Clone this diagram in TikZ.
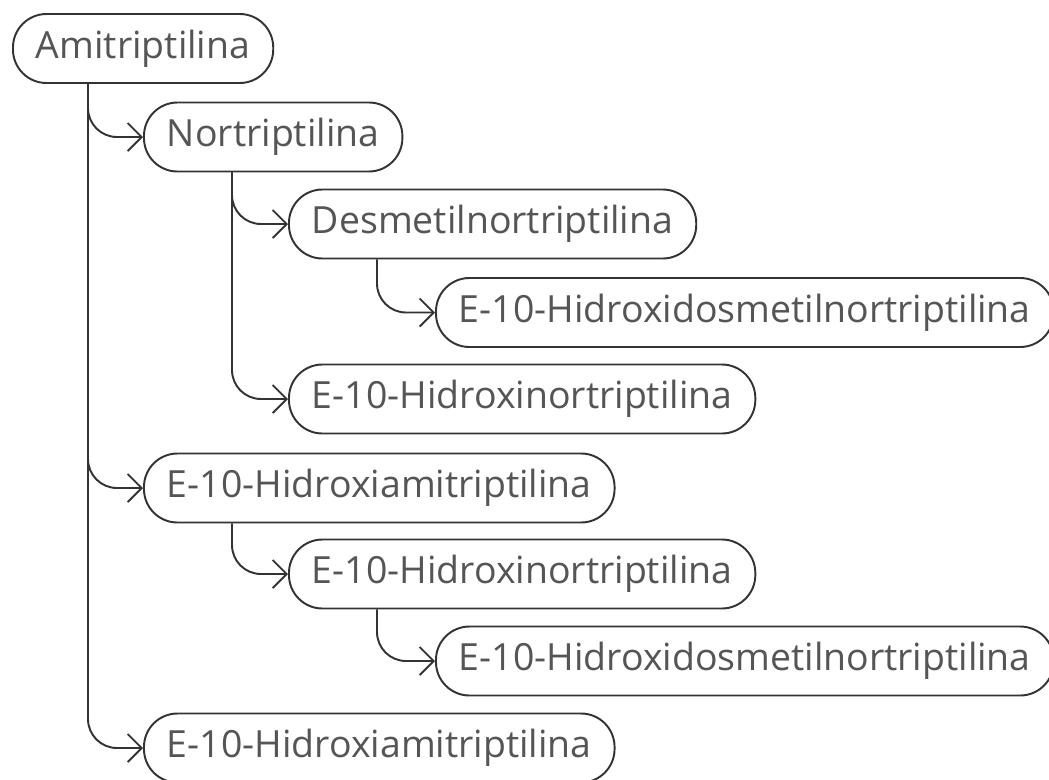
\documentclass[tikz,border=0pt]{standalone}
\usepackage{fontspec}
\setmainfont{Open Sans}
\usepackage{xcolor}
\usepackage{tikz}
\usetikzlibrary{arrows.meta,positioning}
\definecolor{edgegray}{HTML}{333333}
\definecolor{textgray}{HTML}{555555}
\tikzset{
  drug/.style={draw=edgegray, line width=1.1pt, rounded corners=0.67cm, anchor=west, align=center, fill=white, text=textgray, inner xsep=0.46cm, inner ysep=0pt, minimum height=1.38cm},
  metab/.style={-{Straight Barb[length=0.28cm, width=0.56cm]}, line width=1.1pt, draw=edgegray, rounded corners=0.58cm}
}

\begin{document}
\begin{tikzpicture}[font=\fontsize{21.3}{26}\selectfont]
  \useasboundingbox (0,0) rectangle (20.98,-15.58);

  \node[drug] (ami) at (0.24,-0.97) {Amitriptilina};
  \node[drug] (nor) at (2.86,-2.74) {Nortriptilina};
  \node[drug] (desmet) at (5.76,-4.48) {Desmetilnortriptilina};
  \node[drug] (hidDesmet) at (8.7,-6.25) {E-10-Hidroxidosmetilnortriptilina};
  \node[drug] (hidNor) at (5.76,-7.98) {E-10-Hidroxinortriptilina};
  \node[drug] (hidAmi) at (2.86,-9.76) {E-10-Hidroxiamitriptilina};
  \node[drug] (hidNorB) at (5.76,-11.48) {E-10-Hidroxinortriptilina};
  \node[drug] (hidDesmetB) at (8.7,-13.22) {E-10-Hidroxidosmetilnortriptilina};
  \node[drug] (hidAmiB) at (2.86,-14.96) {E-10-Hidroxiamitriptilina};

  % stems under each parent
  \coordinate (amiStem) at ([xshift=1.52cm]ami.south west);
  \coordinate (norStem) at ([xshift=1.78cm]nor.south west);
  \coordinate (desmetStem) at ([xshift=1.78cm]desmet.south west);
  \coordinate (hidAmiStem) at ([xshift=1.78cm]hidAmi.south west);
  \coordinate (hidNorBStem) at ([xshift=1.78cm]hidNorB.south west);

  \draw[metab] (amiStem) |- (nor.west);
  \draw[metab] (amiStem) |- (hidAmi.west);
  \draw[metab] (amiStem) |- (hidAmiB.west);
  \draw[metab] (norStem) |- (desmet.west);
  \draw[metab] (norStem) |- (hidNor.west);
  \draw[metab] (desmetStem) |- (hidDesmet.west);
  \draw[metab] (hidAmiStem) |- (hidNorB.west);
  \draw[metab] (hidNorBStem) |- (hidDesmetB.west);
\end{tikzpicture}
\end{document}
